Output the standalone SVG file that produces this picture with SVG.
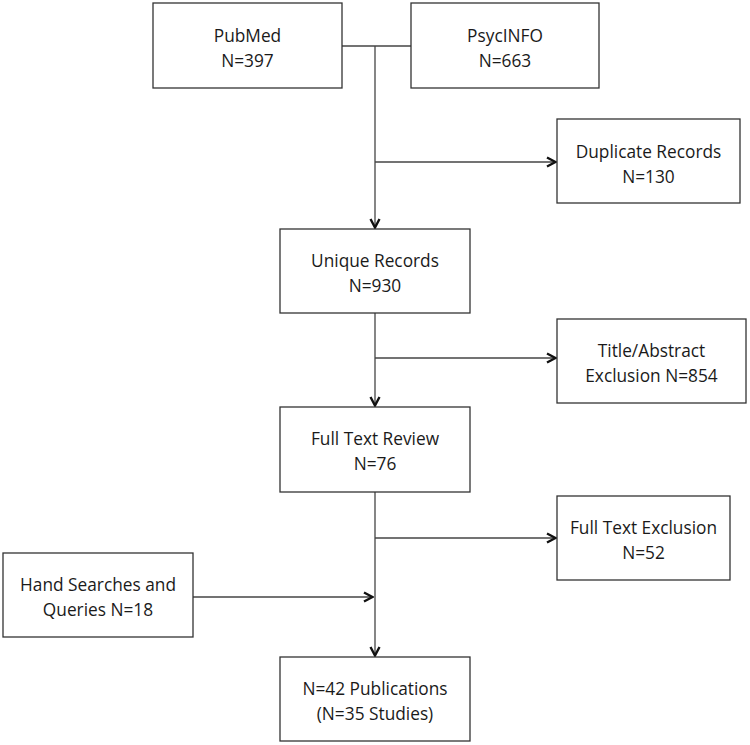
<svg xmlns="http://www.w3.org/2000/svg" width="750" height="745" viewBox="0 0 750 745">
<style>
.box{fill:#fff;stroke:#333;stroke-width:1.3}
.t{font-family:"Open Sans","Liberation Sans",sans-serif;font-size:17.3px;fill:#1a1a1a;text-anchor:middle}
.c{fill:none;stroke:#444;stroke-width:1.3}
</style>
<defs>
<marker id="ah" viewBox="0 0 12 12" refX="11" refY="6" markerWidth="12" markerHeight="12" markerUnits="userSpaceOnUse" orient="auto">
<path d="M2,1.5 L10.5,6 L2,10.5" fill="none" stroke="#111" stroke-width="2.4"/>
</marker>
</defs>
<rect width="750" height="745" fill="#fff"/>
<g id="connectors">
<line class="c" x1="342" y1="46" x2="411" y2="46"/>
<line class="c" x1="375" y1="46" x2="375" y2="228" marker-end="url(#ah)"/>
<line class="c" x1="375" y1="162" x2="556" y2="162" marker-end="url(#ah)"/>
<line class="c" x1="375" y1="313" x2="375" y2="406" marker-end="url(#ah)"/>
<line class="c" x1="375" y1="358" x2="556" y2="358" marker-end="url(#ah)"/>
<line class="c" x1="375" y1="492" x2="375" y2="656" marker-end="url(#ah)"/>
<line class="c" x1="375" y1="538" x2="556" y2="538" marker-end="url(#ah)"/>
<line class="c" x1="193" y1="597" x2="373" y2="597" marker-end="url(#ah)"/>
</g>
<g id="pubmed">
<rect class="box" x="153" y="3" width="189" height="85"/>
<text class="t" x="247.5" y="42">PubMed</text>
<text class="t" x="247.5" y="67">N=397</text>
</g>
<g id="psycinfo">
<rect class="box" x="411" y="3" width="188" height="85"/>
<text class="t" x="505" y="42">PsycINFO</text>
<text class="t" x="505" y="67">N=663</text>
</g>
<g id="duplicate">
<rect class="box" x="557" y="119" width="183" height="84"/>
<text class="t" x="648.5" y="158">Duplicate Records</text>
<text class="t" x="648.5" y="183">N=130</text>
</g>
<g id="unique">
<rect class="box" x="280" y="229" width="190" height="84"/>
<text class="t" x="375" y="267">Unique Records</text>
<text class="t" x="375" y="292">N=930</text>
</g>
<g id="titleabstract">
<rect class="box" x="557" y="319" width="189" height="84"/>
<text class="t" x="651.5" y="357">Title/Abstract</text>
<text class="t" x="651.5" y="382">Exclusion N=854</text>
</g>
<g id="fulltext">
<rect class="box" x="280" y="407" width="190" height="85"/>
<text class="t" x="375" y="445">Full Text Review</text>
<text class="t" x="375" y="470">N=76</text>
</g>
<g id="ftexclusion">
<rect class="box" x="557" y="496" width="173" height="84"/>
<text class="t" x="643.5" y="534">Full Text Exclusion</text>
<text class="t" x="643.5" y="559">N=52</text>
</g>
<g id="handsearch">
<rect class="box" x="3" y="553" width="190" height="84"/>
<text class="t" x="98" y="591">Hand Searches and</text>
<text class="t" x="98" y="616">Queries N=18</text>
</g>
<g id="final">
<rect class="box" x="280" y="657" width="190" height="84"/>
<text class="t" x="375" y="695">N=42 Publications</text>
<text class="t" x="375" y="720">(N=35 Studies)</text>
</g>
</svg>
